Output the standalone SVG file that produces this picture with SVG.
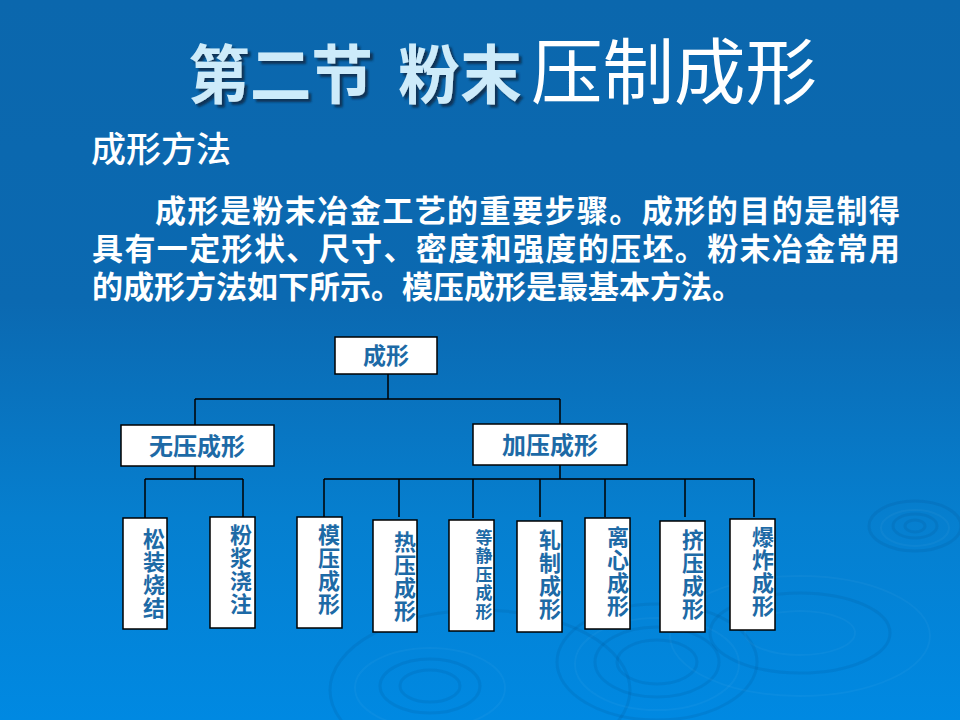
<svg xmlns="http://www.w3.org/2000/svg" width="960" height="720" viewBox="0 0 960 720">
<defs>
<linearGradient id="bg" x1="0" y1="0" x2="0" y2="1">
<stop offset="0" stop-color="#0b67ad"/>
<stop offset="0.42" stop-color="#0b69b1"/>
<stop offset="0.72" stop-color="#067fcf"/>
<stop offset="1" stop-color="#0089e2"/>
</linearGradient>
<filter id="sh" x="-5%" y="-5%" width="110%" height="120%">
<feGaussianBlur in="SourceAlpha" stdDeviation="1"/>
<feOffset dx="3" dy="3" result="o"/>
<feFlood flood-color="#0d2a48" flood-opacity="0.85"/>
<feComposite in2="o" operator="in"/>
<feMerge><feMergeNode/><feMergeNode in="SourceGraphic"/></feMerge>
</filter>
</defs>
<style>
.cjk{font-family:"Noto Sans CJK SC","Liberation Sans",sans-serif}
.box{fill:#ffffff;stroke:#000000;stroke-width:1.5}
.lbl{font-family:"Noto Sans CJK SC","Liberation Sans",sans-serif;font-weight:bold;fill:#1d6aa6}
.vt{font-family:"Noto Sans CJK SC","Liberation Sans",sans-serif;font-weight:bold;fill:#1d6aa6;writing-mode:vertical-rl;font-size:22px;letter-spacing:1px}
.ln{stroke:#000000;stroke-width:1.5;fill:none}
.rd{fill:none;stroke:#00457e;stroke-opacity:0.12;stroke-width:3}
.rl{fill:none;stroke:#ffffff;stroke-opacity:0.035;stroke-width:2}
</style>
<rect x="0" y="0" width="960" height="720" fill="url(#bg)"/>
<g id="ripples">
<ellipse class="rd" cx="915" cy="526" rx="10" ry="6"/>
<ellipse class="rd" cx="915" cy="526" rx="22" ry="12"/>
<ellipse class="rl" cx="915" cy="528" rx="34" ry="18"/>
<ellipse class="rd" cx="915" cy="526" rx="46" ry="25"/>
<ellipse class="rd" cx="657" cy="662" rx="40" ry="22"/>
<ellipse class="rd" cx="657" cy="662" rx="62" ry="35"/>
<ellipse class="rl" cx="657" cy="664" rx="82" ry="46"/>
<ellipse class="rd" cx="657" cy="662" rx="100" ry="58" stroke-opacity="0.08"/>
<ellipse class="rl" cx="800" cy="633" rx="55" ry="22"/>
<ellipse class="rd" cx="800" cy="633" rx="90" ry="40" stroke-opacity="0.07"/>
<ellipse class="rl" cx="800" cy="636" rx="130" ry="60"/>
<ellipse class="rd" cx="430" cy="686" rx="30" ry="16"/>
<ellipse class="rd" cx="430" cy="686" rx="50" ry="27"/>
<ellipse class="rl" cx="430" cy="688" rx="75" ry="40"/>
<ellipse class="rd" cx="480" cy="690" rx="150" ry="80" stroke-opacity="0.05"/>
</g>
<g id="title">
<text class="cjk" x="188" y="98" font-size="64" font-weight="bold" fill="#cdebfa" filter="url(#sh)" textLength="185" lengthAdjust="spacingAndGlyphs">第二节</text>
<text class="cjk" x="398" y="98" font-size="64" font-weight="bold" fill="#cdebfa" filter="url(#sh)" textLength="124" lengthAdjust="spacingAndGlyphs">粉末</text>
<text class="cjk" x="531" y="98" font-size="72" fill="#ffffff" textLength="286" lengthAdjust="spacingAndGlyphs">压制成形</text>
</g>
<g id="body" fill="#ffffff">
<text class="cjk" x="91" y="162" font-size="35" font-weight="500">成形方法</text>
<text class="cjk" x="155" y="222" font-size="31" font-weight="bold" textLength="745" lengthAdjust="spacing">成形是粉末冶金工艺的重要步骤。成形的目的是制得</text>
<text class="cjk" x="92" y="260" font-size="31" font-weight="bold" textLength="808" lengthAdjust="spacing">具有一定形状、尺寸、密度和强度的压坯。粉末冶金常用</text>
<text class="cjk" x="92" y="298" font-size="31" font-weight="bold">的成形方法如下所示。模压成形是最基本方法。</text>
</g>
<g id="connectors">
<path class="ln" d="M388,374 V399 M195,399 H560 M195,399 V425 M560,399 V424"/>
<path class="ln" d="M195,466 V479 M145,479 H243 M145,479 V518 M243,479 V517"/>
<path class="ln" d="M560,465 V479 M324,479 H754 M324,479 V517 M399,479 V517 M473,479 V518 M540,479 V517 M605,479 V517 M685,479 V517 M754,479 V517"/>
</g>
<g id="n-root">
<rect class="box" x="335" y="337" width="102" height="37"/>
<text class="lbl" x="386" y="364" font-size="23" text-anchor="middle">成形</text>
</g>
<g id="n-wuya">
<rect class="box" x="121" y="425" width="153" height="41"/>
<text class="lbl" x="197" y="455" font-size="24" text-anchor="middle">无压成形</text>
</g>
<g id="n-jiaya">
<rect class="box" x="473" y="424" width="154" height="41"/>
<text class="lbl" x="550" y="454" font-size="24" text-anchor="middle">加压成形</text>
</g>
<g id="n-songzhuang">
<rect class="box" x="123" y="518" width="44" height="111"/>
<text class="vt" x="154" y="528">松装烧结</text>
</g>
<g id="n-fenjiang">
<rect class="box" x="210" y="517" width="45" height="111"/>
<text class="vt" x="241" y="524">粉浆浇注</text>
</g>
<g id="n-moya">
<rect class="box" x="297" y="517" width="45" height="111"/>
<text class="vt" x="329" y="524">模压成形</text>
</g>
<g id="n-reya">
<rect class="box" x="373" y="520" width="44" height="112"/>
<text class="vt" x="405" y="531">热压成形</text>
</g>
<g id="n-dengjing">
<rect class="box" x="449" y="520" width="45" height="111"/>
<text class="vt" x="484" y="529" style="font-size:17px;letter-spacing:1.5px">等静压成形</text>
</g>
<g id="n-zhazhi">
<rect class="box" x="517" y="521" width="45" height="111"/>
<text class="vt" x="550" y="529">轧制成形</text>
</g>
<g id="n-lixin">
<rect class="box" x="585" y="518" width="45" height="111"/>
<text class="vt" x="618" y="526">离心成形</text>
</g>
<g id="n-jiya">
<rect class="box" x="660" y="521" width="45" height="111"/>
<text class="vt" x="693" y="529">挤压成形</text>
</g>
<g id="n-baozha">
<rect class="box" x="730" y="519" width="45" height="111"/>
<text class="vt" x="763" y="526">爆炸成形</text>
</g>
</svg>
